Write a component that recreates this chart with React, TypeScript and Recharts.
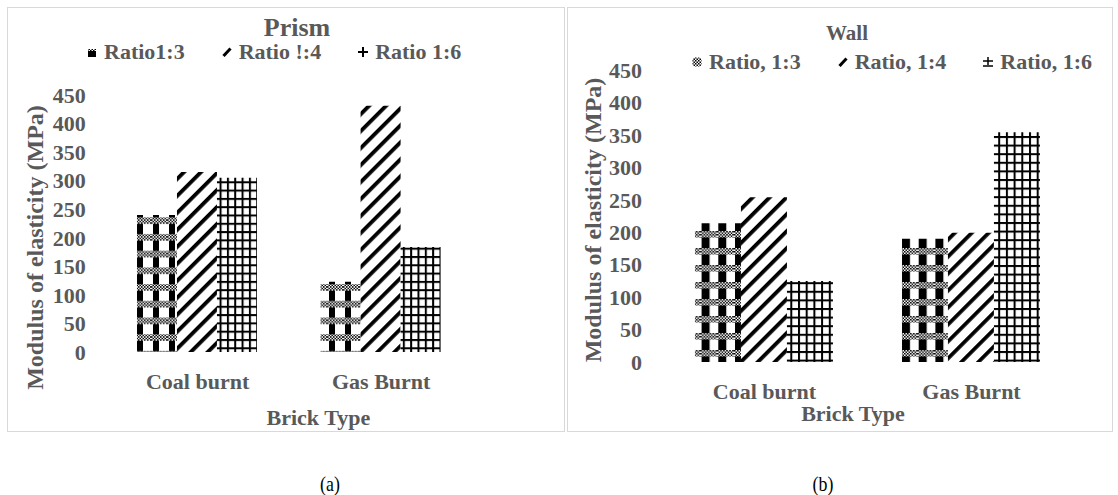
import React from "react";
import { BarChart, Bar, XAxis, YAxis, Label } from "recharts";

const categories = ["Coal burnt", "Gas Burnt"];
const yTicks = [0, 50, 100, 150, 200, 250, 300, 350, 400, 450];

// Prism (a)
const prismNames = ["Ratio1:3", "Ratio !:4", "Ratio 1:6"];
const prism13 = [240, 123];
const prism14 = [315, 431];
const prism16 = [305, 184];

// Wall (b)
const wallNames = ["Ratio, 1:3", "Ratio, 1:4", "Ratio, 1:6"];
const wall13 = [214, 190];
const wall14 = [254, 199];
const wall16 = [125, 354];

const SERIF = "Liberation Serif, Tinos, Times New Roman, Times, DejaVu Serif, serif";
const GREY = "#595959";

const prismData = categories.map((c, i) => ({
  name: c,
  r13: prism13[i],
  r14: prism14[i],
  r16: prism16[i],
}));
const wallData = categories.map((c, i) => ({
  name: c,
  r13: wall13[i],
  r14: wall14[i],
  r16: wall16[i],
}));

const tickStyle = { fontSize: 22, fontWeight: 700, fill: GREY, fontFamily: SERIF };

function Patterns() {
  return (
    <svg width={0} height={0} style={{ position: "absolute" }}>
      <defs>
        <pattern id="dither" width={3} height={3} patternUnits="userSpaceOnUse">
          <rect width={3} height={3} fill="#fff" />
          <rect x={0} y={0} width={1.5} height={1.5} fill="#000" />
          <rect x={1.5} y={1.5} width={1.5} height={1.5} fill="#000" />
        </pattern>
        <pattern id="plaidA" width={16} height={16.7} patternUnits="userSpaceOnUse">
          <rect width={16} height={16.7} fill="#fff" />
          <rect x={2} width={6} height={16.7} fill="#000" />
          <rect y={10} width={16} height={6.5} fill="url(#dither)" />
        </pattern>
        <pattern id="plaidB" width={16.7} height={17} patternUnits="userSpaceOnUse">
          <rect width={16.7} height={17} fill="#fff" />
          <rect x={1} width={8} height={17} fill="#000" />
          <rect y={3} width={16.7} height={6.5} fill="url(#dither)" />
        </pattern>
        <pattern id="diag" width={12} height={12} patternUnits="userSpaceOnUse" patternTransform="rotate(45)">
          <rect width={12} height={12} fill="#fff" />
          <rect width={3.8} height={12} fill="#000" />
        </pattern>
        <pattern id="gridA" width={7.33} height={8.3} patternUnits="userSpaceOnUse">
          <rect width={7.33} height={8.3} fill="#fff" />
          <rect width={2} height={8.3} fill="#000" />
          <rect width={7.33} height={2} fill="#000" />
        </pattern>
        <pattern id="gridB" width={7.7} height={8.6} patternUnits="userSpaceOnUse">
          <rect width={7.7} height={8.6} fill="#fff" />
          <rect width={2} height={8.6} fill="#000" />
          <rect width={7.7} height={2} fill="#000" />
        </pattern>
      </defs>
    </svg>
  );
}

function Icon({ kind }: { kind: string }) {
  if (kind === "plaidA")
    return (
      <svg width={10} height={10}>
        <rect x={1} y={2} width={8} height={8} fill="#000" />
        <rect x={1} y={2} width={8} height={2} fill="url(#dither)" />
      </svg>
    );
  if (kind === "plaidB")
    return (
      <svg width={10} height={10}>
        <rect x={0.5} y={0.5} width={9} height={9} rx={3} fill="url(#dither)" />
      </svg>
    );
  if (kind === "diag")
    return (
      <svg width={10} height={10}>
        <line x1={1.5} y1={9} x2={8.5} y2={1.5} stroke="#000" strokeWidth={3} />
      </svg>
    );
  if (kind === "plus")
    return (
      <svg width={10} height={10}>
        <line x1={0} y1={5} x2={10} y2={5} stroke="#000" strokeWidth={2} />
        <line x1={5} y1={0} x2={5} y2={10} stroke="#000" strokeWidth={2} />
      </svg>
    );
  return (
    <svg width={10} height={10}>
      <line x1={0} y1={4} x2={10} y2={4} stroke="#000" strokeWidth={1.5} />
      <line x1={5} y1={0} x2={5} y2={8} stroke="#000" strokeWidth={1.5} />
      <line x1={0} y1={9} x2={10} y2={9} stroke="#000" strokeWidth={1.5} />
    </svg>
  );
}

function LegendRow({ names, icons, left, top }: { names: string[]; icons: string[]; left: number; top: number }) {
  return (
    <div
      style={{
        position: "absolute",
        left,
        top,
        display: "flex",
        alignItems: "center",
        gap: 37,
        fontFamily: SERIF,
        fontWeight: 700,
        fontSize: 22,
        color: GREY,
        whiteSpace: "nowrap",
        lineHeight: "24px",
      }}
    >
      {names.map((n, i) => (
        <div key={n} style={{ display: "flex", alignItems: "center" }}>
          <Icon kind={icons[i]} />
          <span style={{ marginLeft: 7 }}>{n}</span>
        </div>
      ))}
    </div>
  );
}

const yLabel = (cx: number, dy: number) => (props: any) => {
  const vb = props.viewBox;
  const x = vb.x + cx;
  const y = vb.y + vb.height / 2 + dy;
  return (
    <text
      x={x}
      y={y}
      transform={`rotate(-90 ${x} ${y})`}
      textAnchor="middle"
      dominantBaseline="central"
      fontFamily={SERIF}
      fontWeight={700}
      fontSize={24}
      fill={GREY}
    >
      Modulus of elasticity (MPa)
    </text>
  );
};

const xLabel = (dx: number, dy: number) => (props: any) => {
  const vb = props.viewBox;
  return (
    <text
      x={vb.x + vb.width / 2 + dx}
      y={vb.y + dy}
      textAnchor="middle"
      dominantBaseline="central"
      fontFamily={SERIF}
      fontWeight={700}
      fontSize={22}
      fill={GREY}
    >
      Brick Type
    </text>
  );
};

const panelStyle: React.CSSProperties = {
  position: "absolute",
  top: 7,
  height: 425,
  border: "1.5px solid #d9d9d9",
  boxSizing: "border-box",
};

const captionStyle: React.CSSProperties = {
  position: "absolute",
  top: 484,
  transform: "translate(-50%, -50%) scaleX(0.85)",
  fontFamily: SERIF,
  fontSize: 21,
  color: "#000",
};

export default function App() {
  return (
    <div style={{ position: "absolute", left: 0, top: 0, width: 1118, height: 495, background: "#fff", overflow: "hidden" }}>
      <Patterns />
      <div style={{ ...panelStyle, left: 7, width: 558 }} />
      <div style={{ ...panelStyle, left: 567, width: 546 }} />

      {/* (a) Prism */}
      <div style={{ position: "absolute", left: 7, top: 7 }}>
        <BarChart width={557} height={425} data={prismData} margin={{ top: 88, right: 91, bottom: 0, left: 0 }} barCategoryGap="17%" barGap={0}>
          <XAxis dataKey="name" axisLine={false} tickLine={false} tickMargin={15} height={80} tick={tickStyle} interval={0}>
            <Label content={xLabel(29, 65)} />
          </XAxis>
          <YAxis domain={[0, 450]} ticks={yTicks} interval={0} axisLine={false} tickLine={false} tickMargin={14} width={98.75} tick={tickStyle}>
            <Label content={yLabel(28, 24)} />
          </YAxis>
          <Bar dataKey="r13" name={prismNames[0]} fill="url(#plaidA)" isAnimationActive={false} />
          <Bar dataKey="r14" name={prismNames[1]} fill="url(#diag)" isAnimationActive={false} />
          <Bar dataKey="r16" name={prismNames[2]} fill="url(#gridA)" isAnimationActive={false} />
        </BarChart>
      </div>
      <div style={{ position: "absolute", left: 297, top: 28, transform: "translate(-50%, -50%)", fontFamily: SERIF, fontWeight: 700, fontSize: 26, color: GREY }}>
        Prism
      </div>
      <LegendRow names={prismNames} icons={["plaidA", "diag", "plus"]} left={87} top={40} />

      {/* (b) Wall */}
      <div style={{ position: "absolute", left: 567, top: 7 }}>
        <BarChart width={545} height={425} data={wallData} margin={{ top: 63, right: 37, bottom: 0, left: 0 }} barCategoryGap="16.4%" barGap={0}>
          <XAxis dataKey="name" axisLine={false} tickLine={false} tickMargin={15} height={70} tick={tickStyle} interval={0}>
            <Label content={xLabel(-15, 51)} />
          </XAxis>
          <YAxis domain={[0, 450]} ticks={yTicks} interval={0} axisLine={false} tickLine={false} tickMargin={13} width={94} tick={tickStyle}>
            <Label content={yLabel(26, 4)} />
          </YAxis>
          <Bar dataKey="r13" name={wallNames[0]} fill="url(#plaidB)" isAnimationActive={false} />
          <Bar dataKey="r14" name={wallNames[1]} fill="url(#diag)" isAnimationActive={false} />
          <Bar dataKey="r16" name={wallNames[2]} fill="url(#gridB)" isAnimationActive={false} />
        </BarChart>
      </div>
      <div style={{ position: "absolute", left: 847, top: 33, transform: "translate(-50%, -50%)", fontFamily: SERIF, fontWeight: 700, fontSize: 21, color: GREY }}>
        Wall
      </div>
      <LegendRow names={wallNames} icons={["plaidB", "diag", "pm"]} left={692} top={50} />

      <div style={{ ...captionStyle, left: 330 }}>(a)</div>
      <div style={{ ...captionStyle, left: 823 }}>(b)</div>
    </div>
  );
}
